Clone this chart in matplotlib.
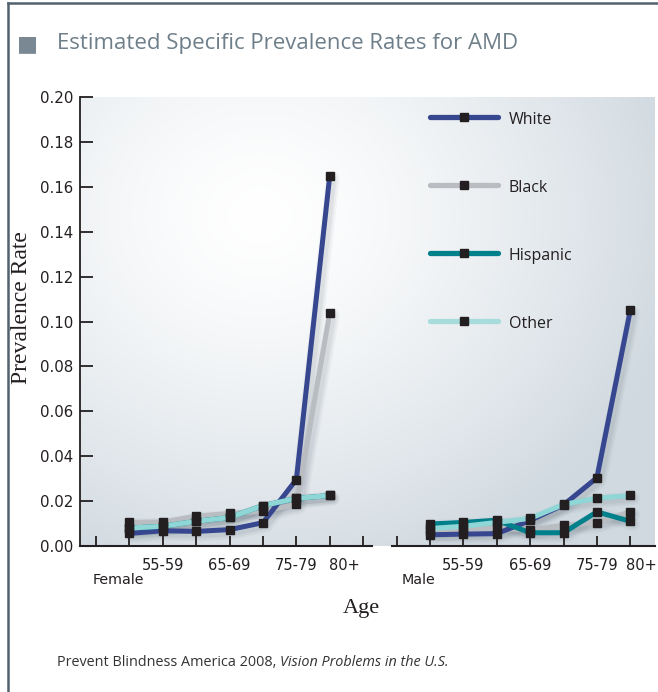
import numpy as np
import matplotlib
matplotlib.use("Agg")
import matplotlib.pyplot as plt
from matplotlib.lines import Line2D
from matplotlib.transforms import blended_transform_factory

# ---------------- data ----------------
genders = ["Female", "Male"]
age_groups = ["50-54", "55-59", "60-64", "65-69", "70-74", "75-79", "80+"]
shown_age_labels = ["55-59", "65-69", "75-79", "80+"]
series_names = ["White", "Black", "Hispanic", "Other"]

female_white = [0.0056, 0.0068, 0.0065, 0.0073, 0.0104, 0.0296, 0.1650]
female_black = [0.0105, 0.0107, 0.0133, 0.0145, 0.0155, 0.0185, 0.1040]
female_hispanic = [0.0080, 0.0088, 0.0110, 0.0127, 0.0180, 0.0212, 0.0225]
female_other = [0.0080, 0.0088, 0.0110, 0.0127, 0.0180, 0.0212, 0.0225]

male_white = [0.0050, 0.0053, 0.0055, 0.0114, 0.0183, 0.0304, 0.1050]
male_black = [0.0066, 0.0070, 0.0080, 0.0071, 0.0092, 0.0104, 0.0152]
male_hispanic = [0.0098, 0.0105, 0.0115, 0.0059, 0.0059, 0.0152, 0.0110]
male_other = [0.0078, 0.0088, 0.0105, 0.0123, 0.0185, 0.0213, 0.0225]

colors = {"White": "#36468f", "Black": "#b9bdc1", "Hispanic": "#00808a", "Other": "#8fd6d6"}
legend_colors = {"White": "#36468f", "Black": "#b9bdc1", "Hispanic": "#00808a", "Other": "#a6dcdc"}

data = {
    "Female": {"White": female_white, "Black": female_black,
               "Hispanic": female_hispanic, "Other": female_other},
    "Male": {"White": male_white, "Black": male_black,
             "Hispanic": male_hispanic, "Other": male_other},
}

# ---------------- figure ----------------
W, H = 658, 692
fig = plt.figure(figsize=(W / 100, H / 100), dpi=100)
fig.patch.set_facecolor("white")

# frame lines of the panel
fig.add_artist(Line2D([8 / W, 8 / W], [0, 1 - 3 / H], color="#52626e", lw=1.8,
                      transform=fig.transFigure))
fig.add_artist(Line2D([8 / W, 1], [1 - 3 / H, 1 - 3 / H], color="#52626e", lw=1.8,
                      transform=fig.transFigure))

# title
fig.text(17 / W, 1 - 44 / H, "\u25A0", fontsize=16, color="#7a8893", va="center",
         ha="left", family="DejaVu Sans")
fig.text(57 / W, 1 - 44 / H, "Estimated Specific Prevalence Rates for AMD",
         fontsize=16, color="#6e7f8a", va="center", ha="left", family="Open Sans")

# caption
t1 = fig.text(57 / W, 1 - 663 / H, "Prevent Blindness America 2008, ",
              fontsize=10.4, color="#333333", va="center", ha="left", family="Open Sans")
fig.canvas.draw()
bb = t1.get_window_extent()
fig.text(bb.x1 / W, 1 - 663 / H, "Vision Problems in the U.S.", fontsize=10.4,
         color="#333333", va="center", ha="left", style="italic", family="Open Sans")

# axes
ax_left, ax_right, ax_top, ax_bot = 80, 655, 97, 546
ax = fig.add_axes([ax_left / W, 1 - ax_bot / H, (ax_right - ax_left) / W, (ax_bot - ax_top) / H])
xmin, xmax = -0.48, 16.74
ax.set_xlim(xmin, xmax)
ax.set_ylim(0, 0.20)

# radial-gradient background
nx, ny = 600, 460
px = np.linspace(ax_left, ax_right, nx)
py = np.linspace(ax_top, ax_bot, ny)
PX, PY = np.meshgrid(px, py)
d = np.sqrt(((PX - 260) / 430) ** 2 + ((PY - 215) / 380) ** 2)
t = np.clip(d, 0, 1) ** 1.4
c0 = np.array([1.0, 1.0, 1.0])
c1 = np.array([0xd0, 0xd9, 0xe0]) / 255
img = c0[None, None, :] * (1 - t[..., None]) + c1[None, None, :] * t[..., None]
ax.imshow(img, extent=(xmin, xmax, 0, 0.20), aspect="auto", zorder=0, origin="upper")

# series
order = ["Black", "White", "Hispanic", "Other"]
for g_i, g in enumerate(genders):
    base = 1 + g_i * 9
    xs = np.arange(len(age_groups)) + base
    for s in order:
        ys = data[g][s]
        for lw, al in [(10, 0.035), (7.5, 0.045), (5, 0.06)]:
            ax.plot(xs + 0.09, np.array(ys) - 0.0013, color="#2b3a4a", lw=lw, alpha=al,
                    solid_capstyle="round", zorder=1)
        ax.plot(xs, ys, color=colors[s], lw=3.6, zorder=2, solid_joinstyle="round")
    for s in order:
        ax.plot(xs, data[g][s], ls="none", marker="s", ms=6.3, color="#231f20", zorder=3)

# spines & ticks
for sp in ["top", "right", "bottom"]:
    ax.spines[sp].set_visible(False)
ax.spines["left"].set_color("#231f20")
ax.spines["left"].set_linewidth(1.3)
ax.plot([xmin, 8.25], [0, 0], color="#231f20", lw=1.5, clip_on=False, zorder=4)
ax.plot([8.85, xmax], [0, 0], color="#231f20", lw=1.5, clip_on=False, zorder=4)
yt = np.arange(0, 0.201, 0.02)
ax.set_yticks(yt)
ax.set_yticklabels([f"{v:.2f}" for v in yt])
ax.tick_params(axis="y", direction="in", length=9, width=1.3, color="#231f20",
               labelsize=10.8, labelcolor="#231f20", pad=5)
ax.set_xticks(np.arange(0, 17))
ax.set_xticklabels([])
ax.tick_params(axis="x", direction="in", length=7, width=1.3, color="#231f20")

# category labels
tr = blended_transform_factory(ax.transData, fig.transFigure)
for g_i, g in enumerate(genders):
    base = 1 + g_i * 9
    ax.text(base - 0.33, 1 - 580 / H, g, transform=tr, ha="center", va="center",
            fontsize=10.3, color="#231f20", family="DejaVu Sans")
    for lab in shown_age_labels:
        i = age_groups.index(lab)
        xpos = base + i + ((0.43 if g_i == 0 else 0.33) if lab == "80+" else 0)
        ax.text(xpos, 1 - 565 / H, lab, transform=tr, ha="center", va="center",
                fontsize=10.5, color="#231f20", family="DejaVu Sans")

fig.text(361 / W, 1 - 608 / H, "Age", fontsize=16, family="Liberation Serif",
         color="#231f20", ha="center", va="center")
fig.text(22 / W, 1 - 308 / H, "Prevalence Rate", fontsize=17, family="Liberation Serif",
         color="#231f20", ha="center", va="center", rotation=90)

# legend (manual)
leg_y = [117, 185, 253, 321]
for s, yy in zip(series_names, leg_y):
    yf = 1 - yy / H
    fig.add_artist(Line2D([430 / W, 498 / W], [yf, yf], color=legend_colors[s], lw=3.8,
                          solid_capstyle="round", transform=fig.transFigure, zorder=5))
    fig.add_artist(Line2D([464 / W], [yf], marker="s", ms=6.3, color="#231f20",
                          transform=fig.transFigure, zorder=6))
    fig.text(509 / W, 1 - (yy + 3) / H, s, fontsize=11.5, color="#231f20",
             ha="left", va="center", family="Open Sans", zorder=6)

fig.savefig("out.png", dpi=100)
